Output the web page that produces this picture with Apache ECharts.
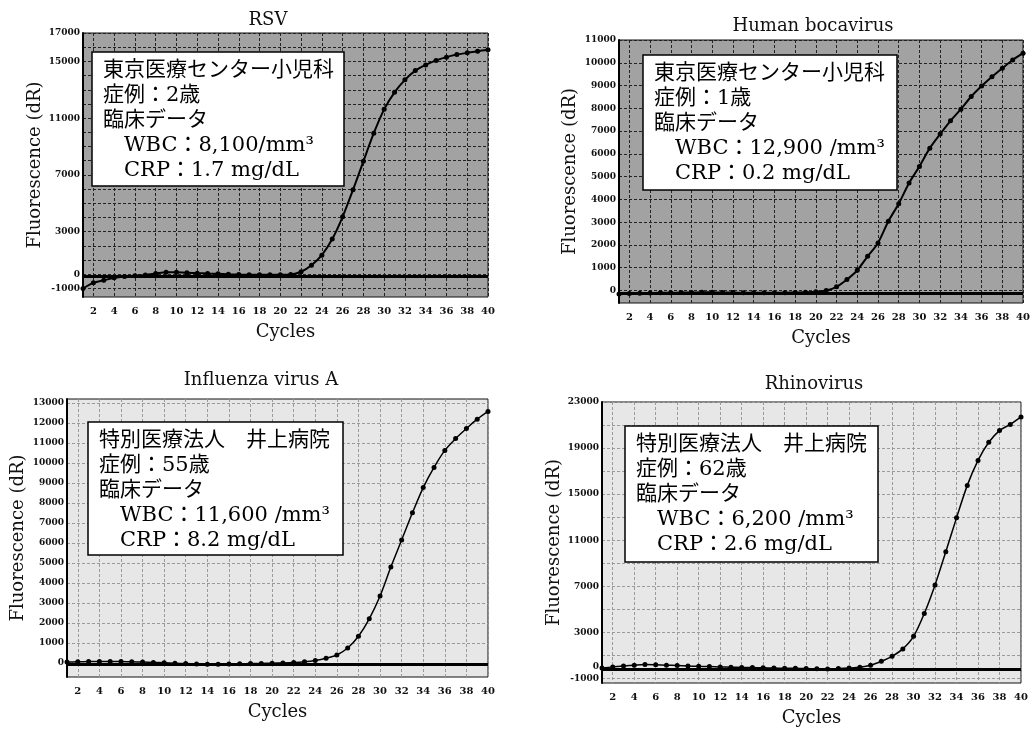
<!DOCTYPE html>
<html lang="ja">
<head>
<meta charset="UTF-8">
<title>Real-time PCR amplification curves</title>
<script src="https://cdn.jsdelivr.net/npm/echarts@6/dist/echarts.min.js"></script>
<style>
  html, body { margin: 0; padding: 0; background: #fff; }
  #main { width: 1033px; height: 732px; }
</style>
</head>
<body>
<div id="main"></div>
<script>
// cycles on the x axis
var cycles = [1, 2, 3, 4, 5, 6, 7, 8, 9, 10, 11, 12, 13, 14, 15, 16, 17, 18, 19, 20,
              21, 22, 23, 24, 25, 26, 27, 28, 29, 30, 31, 32, 33, 34, 35, 36, 37, 38, 39, 40];
var xTickLabels = [2, 4, 6, 8, 10, 12, 14, 16, 18, 20, 22, 24, 26, 28, 30, 32, 34, 36, 38, 40];

// fluorescence (dR)
var rsv = [-1000, -600, -420, -250, -150, -100, -50, 50, 150, 150, 100, 80, 50, 30, 0, -20, -30, -30, -40, -40,
           -20, 180, 640, 1350, 2480, 4050, 5950, 7960, 9940, 11620, 12820, 13700, 14350, 14750, 15070, 15300, 15480, 15600, 15720, 15820];
var bocavirus = [-150, -130, -120, -110, -100, -100, -90, -90, -80, -80, -90, -90, -100, -100, -100, -100, -100, -90, -80, -60,
                 0, 160, 480, 890, 1500, 2090, 3040, 3810, 4720, 5450, 6250, 6870, 7450, 7960, 8520, 8980, 9390, 9760, 10120, 10420];
var influenzaA = [50, 60, 70, 80, 80, 70, 60, 50, 30, 10, -10, -30, -50, -60, -60, -50, -40, -30, -20, -10,
                  0, 20, 60, 130, 240, 400, 750, 1340, 2210, 3350, 4800, 6150, 7510, 8770, 9780, 10630, 11220, 11720, 12190, 12580];
var rhinovirus = [-100, 0, 80, 150, 200, 180, 150, 120, 80, 50, 30, 0, -30, -50, -60, -80, -100, -120, -130, -150,
                  -170, -180, -150, -100, -30, 140, 490, 920, 1560, 2650, 4640, 7120, 10000, 12940, 15760, 17930, 19500, 20520, 21050, 21700];

// threshold lines (dR)
var thresholds = [-150, -130, -40, -230];

// y axis tick labels and grid lines
var rsvYLabels = [-1000, 0, 3000, 7000, 11000, 15000, 17000];
var rsvYGrid = [-1000, 0, 1000, 2000, 3000, 4000, 5000, 6000, 7000, 8000, 9000, 10000, 11000, 12000, 13000, 14000, 15000, 16000, 17000];
var bocaYLabels = [0, 1000, 2000, 3000, 4000, 5000, 6000, 7000, 8000, 9000, 10000, 11000];
var fluYLabels = [0, 1000, 2000, 3000, 4000, 5000, 6000, 7000, 8000, 9000, 10000, 11000, 12000, 13000];
var rhinoYLabels = [-1000, 0, 3000, 7000, 11000, 15000, 19000, 23000];
var rhinoYGrid = [-1000, 1000, 3000, 5000, 7000, 9000, 11000, 13000, 15000, 17000, 19000, 21000, 23000];

var titles = ['RSV', 'Human bocavirus', 'Influenza virus A', 'Rhinovirus'];
var notes = [
  '東京医療センター小児科\n症例：2歳\n臨床データ\n　WBC：8,100/mm³\n　CRP：1.7 mg/dL',
  '東京医療センター小児科\n症例：1歳\n臨床データ\n　WBC：12,900 /mm³\n　CRP：0.2 mg/dL',
  '特別医療法人　井上病院\n症例：55歳\n臨床データ\n　WBC：11,600 /mm³\n　CRP：8.2 mg/dL',
  '特別医療法人　井上病院\n症例：62歳\n臨床データ\n　WBC：6,200 /mm³\n　CRP：2.6 mg/dL'
];

var serif = '"DejaVu Serif", "Liberation Serif", serif';
var boxFont = '"DejaVu Serif", "Noto Sans CJK JP", serif';

// layout of the four panels (pixels)
var panels = [
  { data: rsv, grid: { left: 83, top: 33, width: 405, height: 264 }, yMin: -1600, yMax: 17000,
    yLabels: rsvYLabels, yGrid: rsvYGrid, dark: true, nameGap: 34, titleX: 263, titleY: 6,
    box: [92, 52, 252, 134] },
  { data: bocavirus, grid: { left: 619, top: 40, width: 405, height: 263 }, yMin: -550, yMax: 11000,
    yLabels: bocaYLabels, yGrid: bocaYLabels, dark: true, nameGap: 40, titleX: 808, titleY: 12,
    box: [643, 55, 254, 135] },
  { data: influenzaA, grid: { left: 67, top: 399, width: 421, height: 278 }, yMin: -700, yMax: 13200,
    yLabels: fluYLabels, yGrid: fluYLabels, dark: false, nameGap: 40, titleX: 256, titleY: 366,
    box: [88, 422, 255, 133] },
  { data: rhinovirus, grid: { left: 602, top: 402, width: 419, height: 281 }, yMin: -1400, yMax: 23000,
    yLabels: rhinoYLabels, yGrid: rhinoYGrid, dark: false, nameGap: 37, titleX: 809, titleY: 370,
    box: [625, 426, 253, 136] }
];

var grids = [], xAxes = [], yAxes = [], series = [], titleList = [], graphics = [];

function plain(v) { return String(v); }

panels.forEach(function (p, i) {
  grids.push(Object.assign({
    show: true,
    backgroundColor: p.dark ? '#a2a2a2' : '#e7e7e7',
    borderColor: '#111',
    borderWidth: 1
  }, p.grid));

  var gridColor = p.dark ? '#222' : '#9a9a9a';

  xAxes.push({
    type: 'value', gridIndex: i, min: 1, max: 40,
    name: 'Cycles', nameLocation: 'middle', nameGap: 26,
    nameTextStyle: { fontFamily: serif, fontSize: 18, color: '#111' },
    axisLine: { show: false },
    axisTick: { show: false, customValues: xTickLabels },
    axisLabel: { customValues: xTickLabels, formatter: plain, fontFamily: serif, fontSize: 10, fontWeight: 'bold', color: '#111', margin: 9 },
    splitLine: { show: true, lineStyle: { color: gridColor, type: [3, 2], width: 1 } }
  });

  yAxes.push({
    type: 'value', gridIndex: i, min: p.yMin, max: p.yMax,
    name: 'Fluorescence (dR)', nameLocation: 'middle', nameGap: p.nameGap, nameRotate: 90,
    nameTextStyle: { fontFamily: serif, fontSize: 18, color: '#111' },
    axisLine: { show: true, lineStyle: { color: '#000', width: 2 } },
    axisTick: { show: false, customValues: p.yGrid },
    axisLabel: { customValues: p.yLabels, formatter: plain, fontFamily: serif, fontSize: 9, fontWeight: 'bold', color: '#111', margin: 3 },
    splitLine: { show: true, lineStyle: { color: gridColor, type: [3, 2], width: 1 } }
  });

  series.push({
    type: 'line', xAxisIndex: i, yAxisIndex: i,
    data: cycles.map(function (c, k) { return [c, p.data[k]]; }),
    smooth: 0.3,
    symbol: 'circle', symbolSize: 5,
    itemStyle: { color: '#000' },
    lineStyle: { color: '#000', width: p.dark ? 2 : 1.5 },
    z: 5,
    markLine: {
      silent: true, symbol: 'none', animation: false,
      label: { show: false },
      lineStyle: { color: '#000', width: 3, type: 'solid' },
      data: [{ yAxis: thresholds[i] }]
    }
  });

  titleList.push({
    text: titles[i], left: p.titleX, top: p.titleY, textAlign: 'center',
    textStyle: { fontFamily: serif, fontSize: 18, fontWeight: 'normal', color: '#111' }
  });

  graphics.push({
    type: 'rect', z: 100,
    shape: { x: p.box[0], y: p.box[1], width: p.box[2], height: p.box[3] },
    style: { fill: '#fff', stroke: '#000', lineWidth: 1.5 }
  });
  graphics.push({
    type: 'text', z: 101, x: p.box[0] + 11, y: p.box[1] + 6,
    style: { text: notes[i], font: '21px ' + boxFont, lineHeight: 25, fill: '#000' }
  });
});

var chart = echarts.init(document.getElementById('main'));
chart.setOption({
  animation: false,
  title: titleList,
  grid: grids,
  xAxis: xAxes,
  yAxis: yAxes,
  series: series,
  graphic: graphics
});
</script>
</body>
</html>
